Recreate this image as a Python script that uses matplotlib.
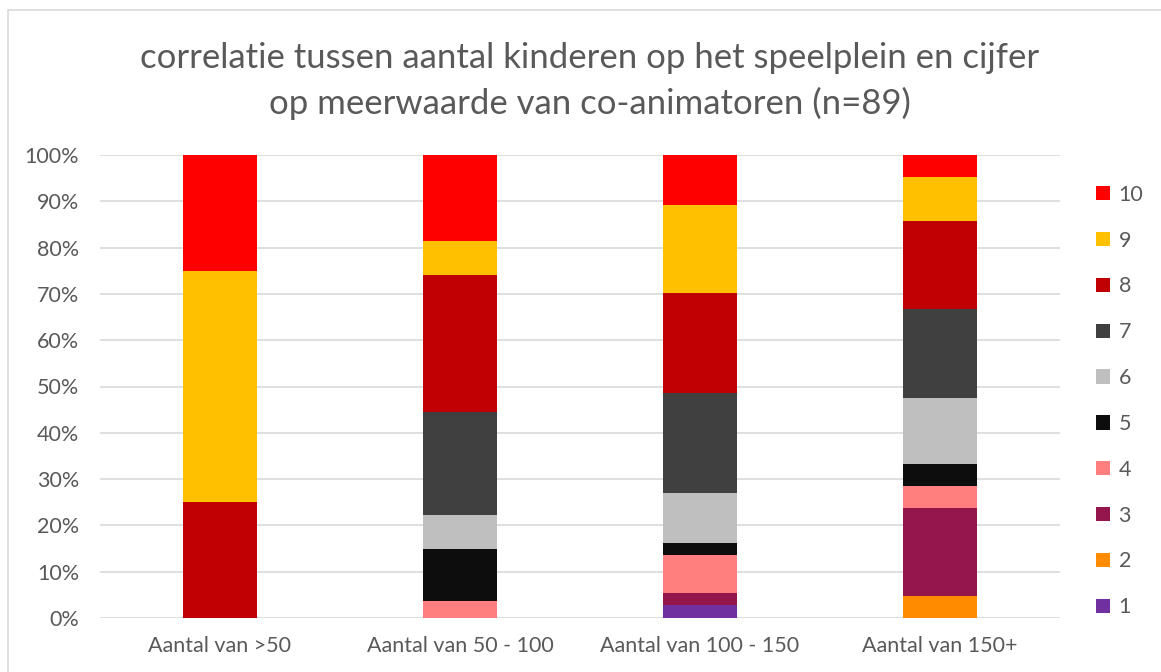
import numpy as np
import matplotlib.pyplot as plt
from matplotlib import patches

# aantal respondenten per cijfer (1..10) per groep
groups = ['Aantal van >50', 'Aantal van 50 - 100', 'Aantal van 100 - 150', 'Aantal van 150+']
scores = ['1', '2', '3', '4', '5', '6', '7', '8', '9', '10']
counts_lt50 = [0, 0, 0, 0, 0, 0, 0, 1, 2, 1]
counts_50_100 = [0, 0, 0, 1, 3, 2, 6, 8, 2, 5]
counts_100_150 = [1, 0, 1, 3, 1, 4, 8, 8, 7, 4]
counts_150plus = [0, 1, 4, 1, 1, 3, 4, 4, 2, 1]
colors = ['#7030A0', '#FF8C00', '#95154D', '#FF7F7F', '#0D0D0D',
          '#BFBFBF', '#404040', '#C00000', '#FFC000', '#FF0000']
yticks = [0, 10, 20, 30, 40, 50, 60, 70, 80, 90, 100]

plt.rcParams['font.family'] = ['Lato', 'DejaVu Sans']
txt = '#595959'

counts = np.array([counts_lt50, counts_50_100, counts_100_150, counts_150plus], dtype=float)
pct = counts / counts.sum(axis=1, keepdims=True) * 100

fig = plt.figure(figsize=(11.61, 6.72), dpi=100)
ax = fig.add_axes([100 / 1161, 1 - 618 / 672, 960 / 1161, 463 / 672])

# rand om de grafiek
fig.patches.append(patches.Rectangle((8 / 1161, -0.01), 1.1, 1 - 10 / 672 + 0.01,
                                     transform=fig.transFigure, fill=False,
                                     edgecolor='#D9D9D9', lw=1.2))

x = np.arange(len(groups))
bottom = np.zeros(len(groups))
handles = []
for i, s in enumerate(scores):
    h = ax.bar(x, pct[:, i], 0.31, bottom=bottom, color=colors[i], label=s, zorder=3)
    handles.append(h)
    bottom += pct[:, i]

ax.set_xlim(-0.5, 3.5)
ax.set_ylim(0, 100)
ax.set_yticks(yticks)
ax.set_yticklabels([f'{t}%' for t in yticks])
ax.set_xticks(x)
ax.set_xticklabels(groups)
ax.tick_params(length=0, colors=txt, labelsize=15.5)
ax.tick_params(axis='y', pad=15)
ax.tick_params(axis='x', pad=13)
ax.yaxis.grid(True, color='#D9D9D9', lw=1.2, zorder=0)
for sp in ax.spines.values():
    sp.set_visible(False)

fig.text(590 / 1161, 1 - 81 / 672,
         'correlatie tussen aantal kinderen op het speelplein en cijfer\nop meerwaarde van co-animatoren (n=89)',
         ha='center', va='center', fontsize=25, color=txt, linespacing=1.5)

fig.legend(handles[::-1], scores[::-1], loc='center left',
           bbox_to_anchor=(1096 / 1161, 1 - 401 / 672), frameon=False,
           fontsize=15.5, labelcolor=txt, handlelength=0.65, handleheight=0.65,
           handletextpad=0.4, labelspacing=1.2, borderaxespad=0, borderpad=0)

fig.savefig('out.png', dpi=100)
